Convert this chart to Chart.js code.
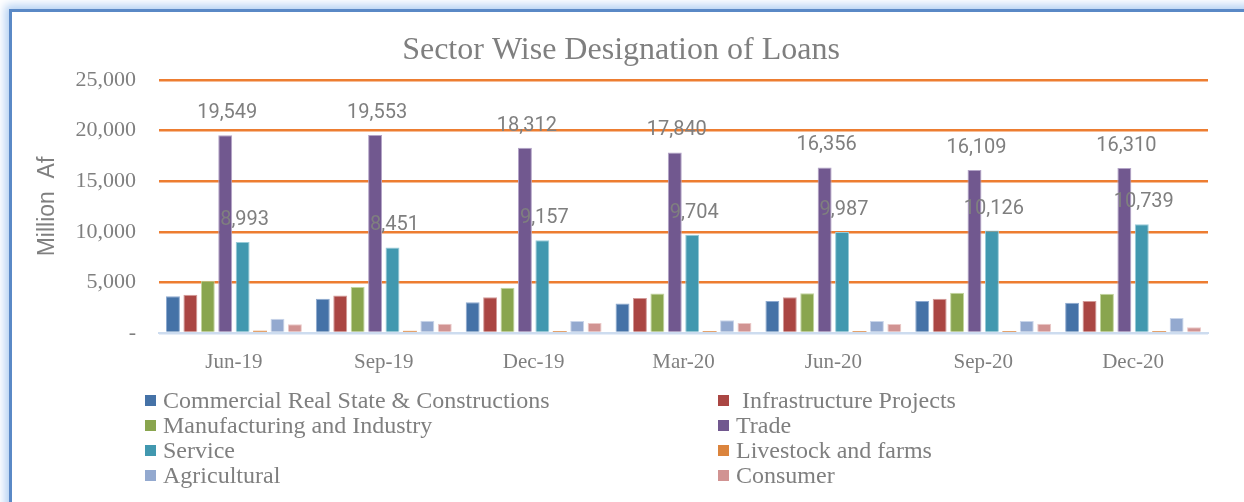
<!DOCTYPE html>
<html>
<head>
<meta charset="utf-8">
<script src="https://cdn.jsdelivr.net/npm/chart.js@4"></script>
<style>
  html, body { margin: 0; padding: 0; background: #fff; }
  body { width: 1244px; height: 502px; position: relative; overflow: hidden; }
  .frame {
    position: absolute; left: 9px; top: 9px; width: 1400px; height: 700px;
    background: #fff;
    border-left: 3px solid #5a89c6; border-top: 3px solid #5a89c6;
    box-shadow: 0 0 9px 4px #b3d0f3;
  }
  #wrap { position: absolute; left: 0; top: 0; width: 1244px; height: 502px; }
  .legend {
    position: absolute; left: 145px; top: 388px; width: 900px;
    display: grid; grid-template-columns: 573px 320px; row-gap: 0;
    font-family: "Liberation Serif", "Times New Roman", serif; font-size: 24px; color: #7f7f7f;
  }
  .legend-item { display: flex; align-items: center; height: 25px; white-space: pre; }
  .legend-box { width: 11px; height: 11px; margin-right: 7px; flex: none; }
</style>
</head>
<body>
<div class="frame"></div>
<div id="wrap"><canvas id="myChart" width="1244" height="502"></canvas></div>
<div class="legend" id="legend"></div>

<script>
// QUARTERS
const quarters = ['Jun-19', 'Sep-19', 'Dec-19', 'Mar-20', 'Jun-20', 'Sep-20', 'Dec-20'];

// LOANS BY SECTOR (million Af)
const commercialRealEstate = [3640, 3380, 3050, 2910, 3150, 3150, 2980];
const infrastructure = [3770, 3700, 3540, 3450, 3540, 3380, 3150];
const manufacturing = [5160, 4540, 4470, 3900, 3940, 3970, 3870];
const trade = [19549, 19553, 18312, 17840, 16356, 16109, 16310];
const service = [8993, 8451, 9157, 9704, 9987, 10126, 10739];
const livestock = [220, 210, 200, 200, 200, 200, 200];
const agricultural = [1420, 1220, 1190, 1260, 1190, 1190, 1490];
const consumer = [860, 920, 990, 990, 890, 920, 570];

// Y AXIS
const yTicks = [0, 5000, 10000, 15000, 20000, 25000];

const grey = '#7f7f7f';

const series = [
  { label: 'Commercial Real State & Constructions', data: commercialRealEstate, color: '#4572a7', edge: '#8eaad0', border: 1 },
  { label: ' Infrastructure Projects', data: infrastructure, color: '#aa4643', edge: '#d39a98', border: 1 },
  { label: 'Manufacturing and Industry', data: manufacturing, color: '#89a54e', edge: '#c3d59e', border: 1 },
  { label: 'Trade', data: trade, color: '#71588f', edge: '#b3a4c7', border: 1, values: true },
  { label: 'Service', data: service, color: '#4198af', edge: '#97cbd8', border: 1, values: true },
  { label: 'Livestock and farms', data: livestock, color: '#db843d', edge: '#db843d', border: 0 },
  { label: 'Agricultural', data: agricultural, color: '#93a9cf', edge: '#c9d5ea', border: 1 },
  { label: 'Consumer', data: consumer, color: '#d19392', edge: '#ebc9c8', border: 1 }
];

// value labels above the Trade and Service bars
const valueLabels = {
  id: 'valueLabels',
  afterDatasetsDraw(chart) {
    const ctx = chart.ctx;
    ctx.save();
    ctx.font = '20px Roboto';
    ctx.fillStyle = grey;
    ctx.textAlign = 'center';
    ctx.textBaseline = 'middle';
    chart.data.datasets.forEach((ds, i) => {
      if (!ds.showValues) return;
      chart.getDatasetMeta(i).data.forEach((bar, j) => {
        ctx.fillText(ds.data[j].toLocaleString('en-US'), bar.x + 2, bar.y - 22);
      });
    });
    ctx.restore();
  }
};

const ctx = document.getElementById('myChart');

new Chart(ctx, {
  type: 'bar',
  data: {
    labels: quarters,
    datasets: series.map(s => ({
      label: s.label,
      data: s.data,
      backgroundColor: s.color,
      borderColor: s.edge,
      borderWidth: s.border,
      showValues: !!s.values,
      categoryPercentage: 0.93,
      barPercentage: 0.8
    }))
  },
  options: {
    responsive: false,
    animation: false,
    layout: { padding: { left: 34, right: 36, top: 0, bottom: 0 } },
    plugins: {
      legend: { display: false },
      tooltip: { enabled: false },
      title: {
        display: true,
        text: 'Sector Wise Designation of Loans',
        color: grey,
        font: { family: 'Liberation Serif', size: 32, weight: 'normal' },
        padding: { top: 31, bottom: 10.6 }
      }
    },
    scales: {
      x: {
        grid: { display: false },
        border: { color: '#cddcef', width: 2 },
        ticks: {
          color: grey,
          padding: 9,
          font: { family: 'Liberation Serif', size: 21 }
        },
        afterFit: scale => { scale.height = 169; }
      },
      y: {
        min: 0,
        max: 25000,
        afterBuildTicks: scale => { scale.ticks = yTicks.map(v => ({ value: v })); },
        grid: {
          color: c => c.tick && c.tick.value === 0 ? '#cddcef' : '#ed7d31',
          lineWidth: 2.5,
          drawTicks: false
        },
        border: { display: false },
        ticks: {
          color: grey,
          padding: 23,
          font: { family: 'Liberation Serif', size: 22 },
          callback: v => v === 0 ? '-' : v.toLocaleString('en-US')
        },
        title: {
          display: true,
          text: 'Million  Af',
          color: grey,
          font: { family: 'Liberation Sans', size: 23 },
          padding: { top: 0, bottom: 0 }
        },
        afterFit: scale => { scale.width = 125; }
      }
    }
  },
  plugins: [valueLabels]
});

// LEGEND (two columns, same order as the datasets)
function renderLegend(items) {
  const box = document.getElementById('legend');
  box.innerHTML = items.map(s => `
      <div class="legend-item"><span class="legend-box" style="background:${s.color}"></span>${s.label}</div>
    `).join('');
}

renderLegend(series);
</script>
</body>
</html>
